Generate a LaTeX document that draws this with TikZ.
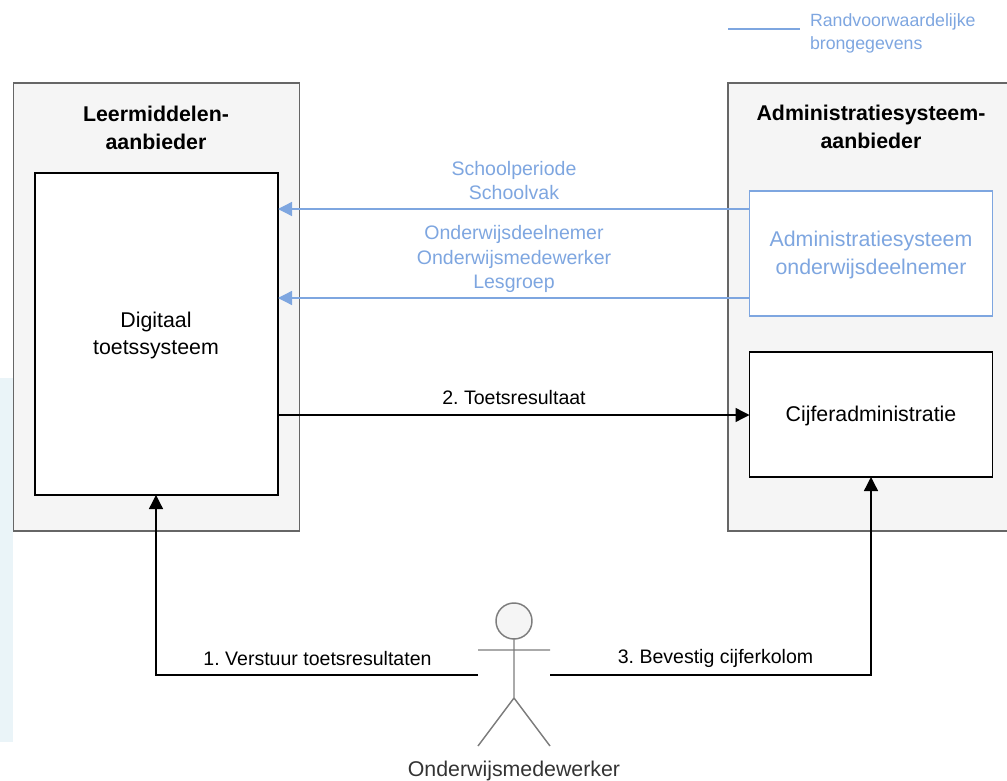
\documentclass[tikz,border=0pt]{standalone}
\usepackage{fontspec}
\setmainfont{Liberation Sans}
\usetikzlibrary{arrows.meta}
\definecolor{lblue}{HTML}{7EA6E0}
\definecolor{panel}{HTML}{F5F5F5}
\definecolor{edge}{HTML}{666666}
\definecolor{tint}{HTML}{EAF4F8}
\newcommand{\fsbox}{\fontsize{16}{20.5}\selectfont\frenchspacing}
\newcommand{\fsedge}{\fontsize{14.65}{18.4}\selectfont\frenchspacing}
\newcommand{\fsleg}{\fontsize{13.3}{17.2}\selectfont\frenchspacing}
\tikzset{
  x=0.75pt,y=-0.75pt,
  every node/.style={font=\fsbox,align=center,inner sep=0pt,outer sep=0pt},
  outerbox/.style={draw=edge,fill=panel,line width=0.9pt,anchor=north west},
  blackbox/.style={draw=black,fill=white,line width=1.1pt,anchor=north west},
  bluebox/.style={draw=lblue,fill=white,line width=1.1pt,anchor=north west,text=lblue},
  conn/.style={draw=black,line width=1pt,-{Triangle[length=10.5pt,width=10.5pt]}},
  bconn/.style={draw=lblue,line width=1pt,-{Triangle[length=10.5pt,width=10.5pt]}},
  figure/.style={draw=edge!85,line width=1.1pt},
  lab/.style={text=black,font=\fsedge},
  blab/.style={text=lblue,font=\fsedge}
}
\begin{document}
\begin{tikzpicture}
\useasboundingbox (0,0) rectangle (1007,781);
\fill[tint] (0,378) rectangle (13,742);
\clip (0,0) rectangle (1007,781);
% legend
\coordinate (legA) at (728,29);
\coordinate (legB) at (800,29);
\draw[draw=lblue,line width=1pt] (legA) -- (legB);
\node[text=lblue,anchor=west,align=left,font=\fsleg] (legend) at (810,33.5) {Randvoorwaardelijke\\brongegevens};
% containers
\node[outerbox,minimum width=286*0.75pt,minimum height=448*0.75pt] (leer) at (13.5,83) {};
\node[outerbox,minimum width=300*0.75pt,minimum height=448*0.75pt] (adm) at (728,83) {};
\node[font=\fsbox\bfseries] (leerT) at (156,128) {Leermiddelen-\\aanbieder};
\node[font=\fsbox\bfseries] (admT) at (871,127) {Administratiesysteem-\\aanbieder};
% inner boxes
\node[blackbox,minimum width=243*0.75pt,minimum height=322*0.75pt] (dts) at (35,173) {};
\node (dtsT) at (156,335.5) {Digitaal\\toetssysteem};
\node[bluebox,minimum width=243*0.75pt,minimum height=125*0.75pt] (asys) at (749.5,191) {};
\node[text=lblue] (asysT) at (871,255) {Administratiesysteem\\onderwijsdeelnemer};
\node[blackbox,minimum width=243*0.75pt,minimum height=125*0.75pt] (cijf) at (749.5,352) {};
\node (cijfT) at (871,416) {Cijferadministratie};
% horizontal connectors
\coordinate (a1) at (749.5,209); \coordinate (d1) at (278,209);
\coordinate (a2) at (749.5,298); \coordinate (d2) at (278,298);
\coordinate (d3) at (278,415);   \coordinate (c3) at (749.5,415);
\draw[bconn] (a1) -- (d1);
\draw[bconn] (a2) -- (d2);
\draw[conn] (d3) -- (c3);
\node[blab] (l1) at (514,180.5) {Schoolperiode\\Schoolvak};
\node[blab] (l2) at (514,259) {Onderwijsdeelnemer\\Onderwijsmedewerker\\Lesgroep};
\node[lab] (l3) at (514,398) {2. Toetsresultaat};
% actor
\node[draw=edge!85,fill=panel,line width=1.1pt,circle,minimum size=36*0.75pt] (head) at (514,621) {};
\coordinate (armL) at (478,650); \coordinate (armR) at (550,650);
\coordinate (hip) at (514,698);
\coordinate (footL) at (478,746); \coordinate (footR) at (550,746);
\draw[figure] (head.south) -- (hip) (armL) -- (armR) (footL) -- (hip) -- (footR);
\node[text=black!80] (actor) at (514,770.5) {Onderwijsmedewerker};
% lower connectors
\coordinate (acL) at (478,675); \coordinate (acR) at (550,675);
\coordinate (dtsB) at (156,495); \coordinate (cijfB) at (871,477);
\draw[conn] (acL) -| (dtsB);
\draw[conn] (acR) -| (cijfB);
\node[lab] (l4) at (317.5,658.5) {1. Verstuur toetsresultaten};
\node[lab] (l5) at (715.5,658.5) {3. Bevestig cijferkolom};
\end{tikzpicture}
\end{document}
